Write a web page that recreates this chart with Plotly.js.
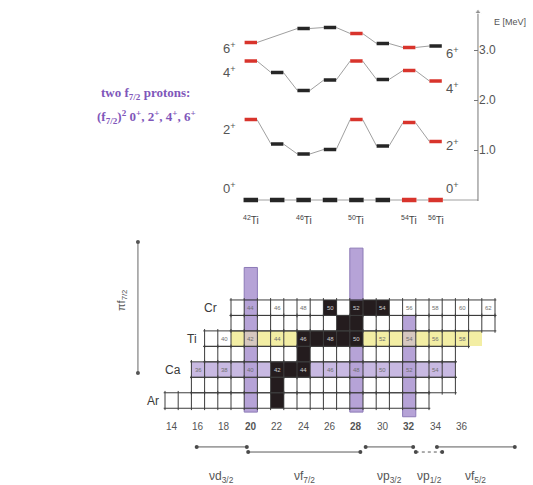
<!DOCTYPE html>
<html><head><meta charset="utf-8">
<script src="https://cdn.plot.ly/plotly-3.0.1.min.js"></script>
<style>html,body{margin:0;padding:0;background:#fff;}#chart{width:533px;height:485px;}</style>
</head><body><div id="chart"></div>
<script>
// ---------- Level scheme of the even Ti isotopes (Z = 22) ----------
const nucleusZ = 22;
const nucleusA = [42, 44, 46, 48, 50, 52, 54, 56];
const level0 = [0, 0, 0, 0, 0, 0, 0, 0];
const level2 = [1.61, 1.12, 0.92, 1.01, 1.61, 1.08, 1.55, 1.17];
const level4 = [2.78, 2.55, 2.19, 2.40, 2.78, 2.41, 2.59, 2.38];
const level6 = [3.15, null, 3.43, 3.45, 3.33, 3.13, 3.05, 3.08];
const red0 = [0, 0, 0, 0, 0, 0, 1, 1];
const red2 = [1, 0, 0, 0, 1, 0, 1, 1];
const red4 = [1, 0, 0, 0, 1, 0, 1, 1];
const red6 = [1, 0, 0, 0, 1, 0, 1, 0];
const labelledA = [42, 46, 50, 54, 56];
const spinNames = ['0', '2', '4', '6'];
const energyTicks = [1, 2, 3];
const energyTickText = ['1.0', '2.0', '3.0'];

// ---------- Section of the nuclide chart ----------
const rowZ = [24, 23, 22, 21, 20, 19, 18];
const rowSymbol = ['Cr', '', 'Ti', '', 'Ca', '', 'Ar'];
const rowNmin = [19, 19, 17, 17, 16, 16, 14];
const rowNmax = [38, 38, 36, 35, 35, 35, 33];
const rowStableN = [[26, 28, 29, 30], [27, 28], [24, 25, 26, 27, 28], [24], [22, 23, 24], [22], [22]];
const labelledRowZ = [24, 22, 20];
const magicN = [20, 28, 32];
const magicTopRowZ = [24, 24, 23];
const magicBarTopZ = [26.6, 27.85, null];
const magicBarBottomZ = [17.25, 17.25, 16.95];
const tiBandN = [19, 37];
const caBandN = [16, 35];
const nTicks = [14, 16, 18, 20, 22, 24, 26, 28, 30, 32, 34, 36];
const nTicksBold = [20, 28, 32];
const orbitName = ['νd<sub>3/2</sub>', 'νf<sub>7/2</sub>', 'νp<sub>3/2</sub>', 'νp<sub>1/2</sub>', 'νf<sub>5/2</sub>'];
const orbitStartN = [15.9, 19.8, 28.7, 32.5, 34.1];
const orbitEndN = [19.7, 28.3, 32.3, 34.5, 40.0];

// ---------- styling constants ----------
const FONT = 'Arial, "Liberation Sans", sans-serif';
const GREY = '#555';
const RED = '#d8342c', BLACK = '#262626';
const axisN = 37.21;
const xRange = [1, 1 + 533 / 13.2];
const y2Range = [12.539, 28.699];
const pxY = p => 1 - p / 485;

const traces = [];
const ann = [];
const gridText = (x, y, text, size, color) => ann.push({xref: 'x', yref: 'y2', x, y, text, showarrow: false,
  xanchor: 'center', yanchor: 'middle', font: {family: FONT, size, color}});

// ---- nuclide chart cells (heatmap) ----
const xsN = []; for (let n = 14; n <= 38; n++) xsN.push(n);
const ysZ = rowZ.slice().reverse();
const zCells = ysZ.map(Z => {
  const i = rowZ.indexOf(Z);
  return xsN.map(N => {
    const inRow = N >= rowNmin[i] && N <= rowNmax[i];
    const inTi = Z === 22 && N >= tiBandN[0] && N <= tiBandN[1];
    if (!inRow && !inTi) return null;
    if (rowStableN[i].includes(N)) return 4;
    const m = magicN.indexOf(N);
    const isMagic = m >= 0 && Z <= magicTopRowZ[m];
    if (isMagic && inTi) return 5;
    if (isMagic) return 2;
    if (Z === 20 && N >= caBandN[0] && N <= caBandN[1]) return 3;
    if (inTi) return 1;
    return 0;
  });
});
const cellColors = ['#ffffff', '#f3eea4', '#b6a3d7', '#c8b9e2', '#241c1e', '#d6c8bf'];
const cs = [];
cellColors.forEach((c, k) => { cs.push([k / 6, c]); cs.push([(k + 1) / 6, c]); });
traces.push({type: 'heatmap', x: xsN, y: ysZ, z: zCells, zmin: -0.5, zmax: 5.5,
  colorscale: cs, showscale: false, hoverinfo: 'skip', xaxis: 'x', yaxis: 'y2', zsmooth: false});

// ---- magic-number bars sticking out of the chart ----
const bx = [], by = [];
magicN.forEach((N, m) => {
  const top = magicTopRowZ[m] + 0.5, bottom = Math.min(...rowZ) - 0.5;
  if (magicBarTopZ[m] !== null) {
    bx.push(N - 0.5, N + 0.5, N + 0.5, N - 0.5, N - 0.5, null);
    by.push(top, top, magicBarTopZ[m], magicBarTopZ[m], top, null);
  }
  bx.push(N - 0.5, N + 0.5, N + 0.5, N - 0.5, N - 0.5, null);
  by.push(bottom, bottom, magicBarBottomZ[m], magicBarBottomZ[m], bottom, null);
});
traces.push({type: 'scatter', mode: 'lines', x: bx, y: by, fill: 'toself', fillcolor: '#b6a3d7',
  line: {color: '#8c7ab6', width: 1}, xaxis: 'x', yaxis: 'y2', hoverinfo: 'skip'});

// ---- grid lines ----
const gx = [], gy = [];
rowZ.forEach((Z, i) => {
  const a = rowNmin[i] - 0.5, b = rowNmax[i] + 0.5;
  gx.push(a - 0.1, b + 0.1, null, a - 0.1, b + 0.1, null);
  gy.push(Z + 0.5, Z + 0.5, null, Z - 0.5, Z - 0.5, null);
  for (let n = rowNmin[i]; n <= rowNmax[i] + 1; n++) { gx.push(n - 0.5, n - 0.5, null); gy.push(Z - 0.62, Z + 0.62, null); }
});
traces.push({type: 'scatter', mode: 'lines', x: gx, y: gy, line: {color: '#3c3c3c', width: 1},
  xaxis: 'x', yaxis: 'y2', hoverinfo: 'skip'});

// ---- mass numbers in the cells ----
labelledRowZ.forEach(Z => {
  const i = rowZ.indexOf(Z);
  for (let N = rowNmin[i]; N <= rowNmax[i]; N++) {
    if (N % 2) continue;
    gridText(N, Z, String(Z + N), 6, rowStableN[i].includes(N) ? '#d0d0d0' : '#707070');
  }
});

// ---- element symbols ----
const symX = {Cr: 16.91, Ti: 15.55, Ca: 14.11, Ar: 12.59};
rowSymbol.forEach((s, i) => { if (s) gridText(symX[s], rowZ[i], s, 12, '#3a3a3a'); });

// ---- neutron number labels ----
nTicks.forEach(n => gridText(n, 16.29, nTicksBold.includes(n) ? '<b>' + n + '</b>' : String(n), 10, GREY));

// ---- neutron orbitals ----
orbitName.forEach((name, k) => {
  const yy = k % 2 ? 14.67 : 15.0;
  traces.push({type: 'scatter', mode: 'lines+markers', x: [orbitStartN[k], orbitEndN[k]], y: [yy, yy],
    line: {color: '#5a5a5a', width: 1, dash: k === 3 ? 'dot' : 'solid'}, marker: {size: 4, color: '#4a4a4a'},
    xaxis: 'x', yaxis: 'y2', hoverinfo: 'skip', cliponaxis: false});
  gridText((orbitStartN[k] + orbitEndN[k]) / 2, 13.06, name, 12, GREY);
});

// ---- proton f7/2 arrow ----
traces.push({type: 'scatter', mode: 'lines+markers', x: [11.45, 11.45], y: [28.25, 19.78],
  line: {color: '#666', width: 1}, marker: {size: 4, color: '#555'}, xaxis: 'x', yaxis: 'y2', hoverinfo: 'skip'});
ann.push({xref: 'x', yref: 'paper', x: 10.24, y: pxY(300), showarrow: false, textangle: -90,
  xanchor: 'center', yanchor: 'middle', text: 'πf<sub>7/2</sub>', font: {family: FONT, size: 11, color: GREY}});

// ---- level scheme ----
const levels = [level0, level2, level4, level6];
const reds = [red0, red2, red4, red6];
const cx = [], cy = [];
levels.forEach((E, s) => {
  const half = s === 0 ? 0.55 : 0.47;
  let prev = null;
  E.forEach((e, k) => {
    if (e === null) return;
    const n = nucleusA[k] - nucleusZ;
    if (prev) { cx.push(prev[0] + half, n - half, null); cy.push(prev[1], e, null); }
    prev = [n, e];
  });
  if (s === 0) { cx.push(prev[0] + half, axisN, null); cy.push(0, 0, null); }
});
traces.push({type: 'scatter', mode: 'lines', x: cx, y: cy, line: {color: '#a0a0a0', width: 1},
  xaxis: 'x', yaxis: 'y', hoverinfo: 'skip'});
[[true, RED], [false, BLACK]].forEach(([wantRed, col]) => {
  [[0], [1, 2, 3]].forEach(group => {
    const x = [], y = [];
    group.forEach(s => {
      const half = s === 0 ? 0.55 : 0.47;
      levels[s].forEach((e, k) => {
        if (e === null || (!!reds[s][k]) !== wantRed) return;
        const n = nucleusA[k] - nucleusZ;
        x.push(n - half, n + half, null); y.push(e, e, null);
      });
    });
    traces.push({type: 'scatter', mode: 'lines', x, y, line: {color: col, width: group[0] === 0 ? 4.5 : 3.5},
      xaxis: 'x', yaxis: 'y', hoverinfo: 'skip', cliponaxis: false});
  });
});

// ---- energy axis line with arrow head ----
traces.push({type: 'scatter', mode: 'lines+markers', x: [axisN, axisN], y: [-0.02, 3.76],
  line: {color: '#777', width: 1}, marker: {symbol: ['circle', 'triangle-up'], size: [0, 6], color: '#777'},
  xaxis: 'x', yaxis: 'y', hoverinfo: 'skip', cliponaxis: false});

// ---- annotations of the level scheme ----
const leftSpinY = [191, 122, 65, 41], rightSpinY = [191, 138, 81, 46];
spinNames.forEach((s, k) => {
  ann.push({xref: 'x', yref: 'paper', x: 18.4, y: pxY(leftSpinY[k] - 3), text: s + '<sup>+</sup>', showarrow: false,
    xanchor: 'center', font: {family: FONT, size: 13, color: GREY}});
  ann.push({xref: 'x', yref: 'paper', x: 35.25, y: pxY(rightSpinY[k] - 3), text: s + '<sup>+</sup>', showarrow: false,
    xanchor: 'center', font: {family: FONT, size: 13, color: GREY}});
});
labelledA.forEach(A => ann.push({xref: 'x', yref: 'paper', x: A - nucleusZ, y: pxY(220), showarrow: false,
  xanchor: 'center', text: '<sup>' + A + '</sup>Ti', font: {family: FONT, size: 10, color: '#444'}}));
ann.push({xref: 'paper', yref: 'paper', x: 0.957, y: pxY(15), text: 'E [MeV]', showarrow: false,
  xanchor: 'center', font: {family: FONT, size: 9, color: GREY}});
const purple = {family: '"Liberation Serif", "Times New Roman", serif', size: 13, color: '#8057ba'};
ann.push({xref: 'paper', yref: 'paper', x: 145 / 533, y: pxY(83), showarrow: false, font: purple,
  xanchor: 'center', text: '<b>two f<sub>7/2</sub> protons:</b>'});
ann.push({xref: 'paper', yref: 'paper', x: 146 / 533, y: pxY(106), showarrow: false, font: purple,
  xanchor: 'center', text: '<b>(f<sub>7/2</sub>)<sup>2</sup> 0<sup>+</sup>, 2<sup>+</sup>, 4<sup>+</sup>, 6<sup>+</sup></b>'});

const layout = {
  width: 533, height: 485, margin: {l: 0, r: 0, t: 0, b: 0},
  paper_bgcolor: '#ffffff', plot_bgcolor: 'rgba(0,0,0,0)', showlegend: false,
  xaxis: {range: xRange, visible: false, anchor: 'y2', fixedrange: true},
  yaxis: {domain: [1 - 220 / 485, 1 - 5 / 485], range: [-0.4, 3.9], anchor: 'free', position: 478 / 533,
    side: 'right', ticks: 'inside', ticklen: 4, tickcolor: '#777', tickvals: energyTicks, ticktext: energyTickText,
    tickfont: {family: FONT, size: 12, color: GREY}, showgrid: false, zeroline: false, showline: false, fixedrange: true},
  yaxis2: {domain: [0, 1 - 235 / 485], range: y2Range, visible: false, fixedrange: true},
  annotations: ann
};
Plotly.newPlot('chart', traces, layout, {staticPlot: true, displayModeBar: false});
</script></body></html>
